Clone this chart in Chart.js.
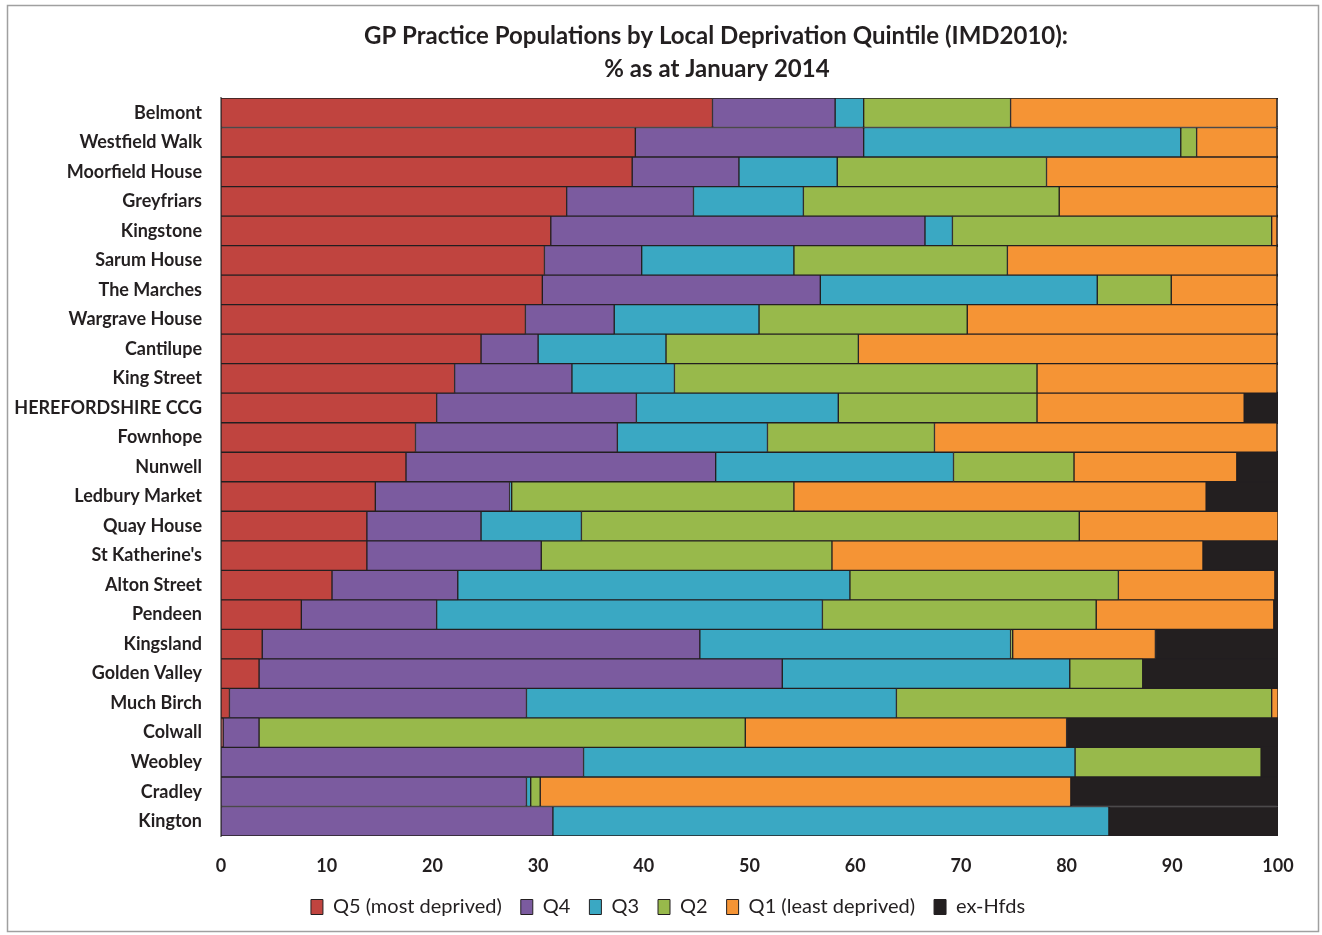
<!DOCTYPE html>
<html>
<head>
<meta charset="utf-8">
<script src="https://cdn.jsdelivr.net/npm/chart.js@4"></script>
<style>
  html, body { margin: 0; padding: 0; background: #fff; }
  #wrap { position: absolute; left: 0; top: 0; width: 1322px; height: 935px; }
</style>
</head>
<body>
<div id="wrap"><canvas id="c" width="1322" height="935"></canvas></div>
<script>
const titleLines = ['GP Practice Populations by Local Deprivation Quintile (IMD2010):', '% as at January 2014'];
const categories = ['Belmont','Westfield Walk','Moorfield House','Greyfriars','Kingstone','Sarum House','The Marches','Wargrave House','Cantilupe','King Street','HEREFORDSHIRE CCG','Fownhope','Nunwell','Ledbury Market','Quay House',"St Katherine's",'Alton Street','Pendeen','Kingsland','Golden Valley','Much Birch','Colwall','Weobley','Cradley','Kington'];
const seriesNames = ['Q5 (most deprived)','Q4','Q3','Q2','Q1 (least deprived)','ex-Hfds'];
const q5 = [46.5,39.2,38.9,32.7,31.2,30.6,30.4,28.8,24.6,22.1,20.4,18.4,17.5,14.6,13.8,13.8,10.5,7.6,3.9,3.6,0.8,0.2,0,0,0];
const q4 = [11.6,21.6,10.1,12.0,35.4,9.2,26.3,8.4,5.4,11.1,18.9,19.1,29.3,12.7,10.8,16.5,11.9,12.8,41.4,49.5,28.1,3.4,34.3,28.9,31.4];
const q3 = [2.7,30.0,9.3,10.4,2.6,14.4,26.2,13.7,12.1,9.7,19.1,14.2,22.5,0.2,9.5,0,37.1,36.5,29.4,27.2,35.0,0,46.5,0.4,52.6];
const q2 = [13.9,1.5,19.8,24.2,30.2,20.2,7.0,19.7,18.2,34.3,18.8,15.8,11.4,26.7,47.1,27.5,25.4,25.9,0.2,6.9,35.5,46.0,17.6,0.9,0];
const q1 = [25.2,7.6,21.8,20.6,0.5,25.5,10.0,29.3,39.6,22.7,19.6,32.4,15.4,39.0,18.8,35.1,14.8,16.8,13.5,0,0.6,30.4,0,50.2,0];
const exHfds = [0.1,0.1,0.1,0.1,0.1,0.1,0.1,0.1,0.1,0.1,3.2,0.1,3.9,6.8,0,7.1,0.3,0.4,11.6,12.8,0,20.0,1.6,19.6,16.0];
const xTicks = [0,10,20,30,40,50,60,70,80,90,100];

const colors = ['#c0443f','#7b5b9f','#3aa8c3','#98b94b','#f59435','#231f20'];
const seriesData = [q5,q4,q3,q2,q1,exHfds];
const TXT = '#231f20';

const datasets = seriesNames.map((name, i) => ({
  label: name,
  data: seriesData[i].map(v => v === 0 ? null : v),
  backgroundColor: colors[i],
  borderColor: '#231f20',
  borderWidth: 1,
  borderSkipped: false,
  barPercentage: 1.0,
  categoryPercentage: 1.0
}));

const framePlugin = {
  id: 'frame',
  afterLayout(chart) {
    const lg = chart.legend;
    if (lg) {
      lg.left += 24; lg.right += 24;
      const dy = -8;
      lg.top += dy; lg.bottom += dy;
    }
  },
  beforeDraw(chart) {
    const ctx = chart.ctx;
    ctx.save();
    ctx.fillStyle = '#fff';
    ctx.fillRect(0, 0, chart.width, chart.height);
    ctx.strokeStyle = '#a0a0a0';
    ctx.lineWidth = 1.5;
    ctx.strokeRect(7.5, 5.5, 1311, 926);
    ctx.restore();
  },
  afterDraw(chart) {
    const ctx = chart.ctx;
    ctx.save();
    ctx.fillStyle = TXT;
    ctx.font = 'bold 24px Lato';
    ctx.textAlign = 'center';
    ctx.textBaseline = 'middle';
    ctx.fillText(titleLines[0], 716, 36);
    ctx.fillText(titleLines[1], 717, 69);
    ctx.restore();
  }
};

new Chart(document.getElementById('c'), {
  type: 'bar',
  data: { labels: categories, datasets },
  plugins: [framePlugin],
  options: {
    indexAxis: 'y',
    responsive: false,
    animation: false,
    layout: { padding: { left: 10, right: 44, top: 98, bottom: 0 } },
    plugins: {
      title: { display: false },
      tooltip: { enabled: false },
      legend: {
        position: 'bottom',
        labels: {
          color: TXT,
          font: { family: 'Lato', size: 20 },
          boxWidth: 12,
          boxHeight: 15,
          padding: 19
        }
      }
    },
    scales: {
      x: {
        stacked: true,
        min: 0,
        max: 100,
        afterBuildTicks(scale) { scale.ticks = xTicks.map(v => ({ value: v })); },
        afterFit(scale) { scale.height = 50; },
        ticks: { color: TXT, font: { family: 'Lato', size: 18, weight: 'bold' }, padding: 19 },
        grid: { display: false, drawTicks: false },
        border: { display: false }
      },
      y: {
        stacked: true,
        afterFit(scale) { scale.width = 211; },
        ticks: { color: TXT, font: { family: 'Lato', size: 18, weight: 'bold' }, padding: 19, autoSkip: false },
        grid: { display: false, drawTicks: false },
        border: { display: true, color: '#8a8a8a', width: 2 }
      }
    }
  }
});
</script>
</body>
</html>
